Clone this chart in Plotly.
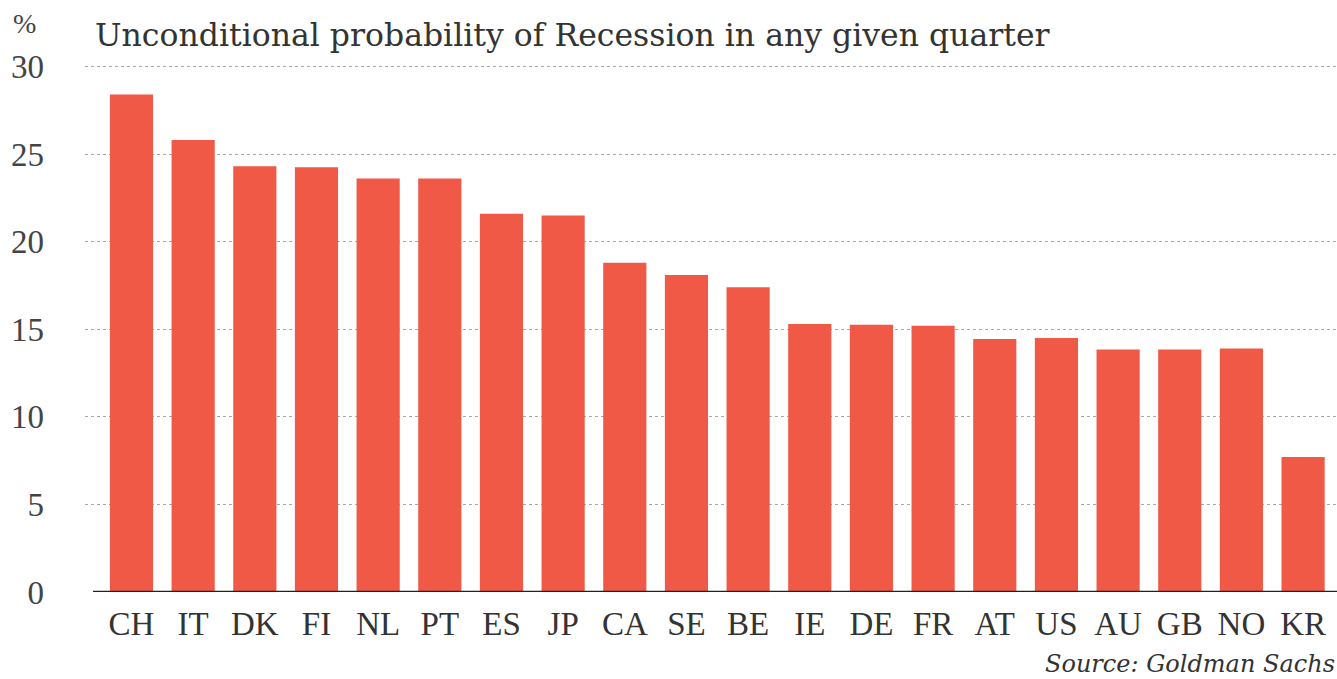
import plotly.graph_objects as go

countries = ["CH", "IT", "DK", "FI", "NL", "PT", "ES", "JP", "CA", "SE",
             "BE", "IE", "DE", "FR", "AT", "US", "AU", "GB", "NO", "KR"]
probability = [28.4, 25.8, 24.3, 24.25, 23.6, 23.6, 21.6, 21.5, 18.8, 18.1,
               17.4, 15.3, 15.25, 15.2, 14.45, 14.5, 13.85, 13.85, 13.9, 7.7]
y_ticks = [0, 5, 10, 15, 20, 25, 30]

W, H = 1337, 679
L, R, T, B = 85, 0, 63, 87
FONT = "Liberation Serif, DejaVu Serif, serif"
WIDE = "DejaVu Serif, Liberation Serif, serif"
BAR = "#EF5946"

fig = go.Figure(go.Bar(x=countries, y=probability, marker_color=BAR,
                       marker_line_width=0, width=0.70))

fig.update_layout(
    width=W, height=H,
    margin=dict(l=L, r=R, t=T, b=B, pad=0),
    paper_bgcolor="white", plot_bgcolor="white",
    showlegend=False,
    font=dict(family=FONT, color="#333333"),
    bargap=0.3,
)
fig.update_xaxes(
    range=[-0.754, 19.55],
    tickfont=dict(size=33, color="#333333", family=FONT),
    showgrid=False, showline=False, zeroline=False,
    ticks="", ticklabelstandoff=9,
)
fig.update_yaxes(
    range=[0, 30.2], tickvals=y_ticks,
    tickfont=dict(size=33, color="#444444", family=FONT),
    showgrid=True, gridcolor="#a8a8a8", griddash="dot", gridwidth=1,
    zeroline=False, showline=False, ticks="", ticklabelstandoff=40,
)
# baseline
fig.add_shape(type="line", xref="paper", yref="y", x0=(93 - L) / (W - L - R), x1=1,
              y0=0, y1=0, line=dict(color="#222222", width=2.5))

PW, PH = W - L - R, H - T - B
fig.add_annotation(text="Unconditional probability of Recession in any given quarter",
                   xref="paper", yref="paper", x=(93 - L) / PW,
                   y=1 + (T - 35) / PH, xanchor="left", yanchor="middle",
                   showarrow=False, font=dict(size=31.5, color="#333333", family=WIDE))
fig.add_annotation(text="%", xref="paper", yref="paper", x=(11 - L) / PW,
                   y=1 + (T - 24) / PH, xanchor="left", yanchor="middle",
                   showarrow=False, font=dict(size=28, color="#444444", family=FONT))
fig.add_annotation(text="Source: Goldman Sachs", xref="paper", yref="paper", x=1,
                   y=-(664 - (H - B)) / PH, xanchor="right", yanchor="middle",
                   showarrow=False,
                   font=dict(size=24, color="#333333", family=WIDE, style="italic"))

fig.write_html("out.html")
